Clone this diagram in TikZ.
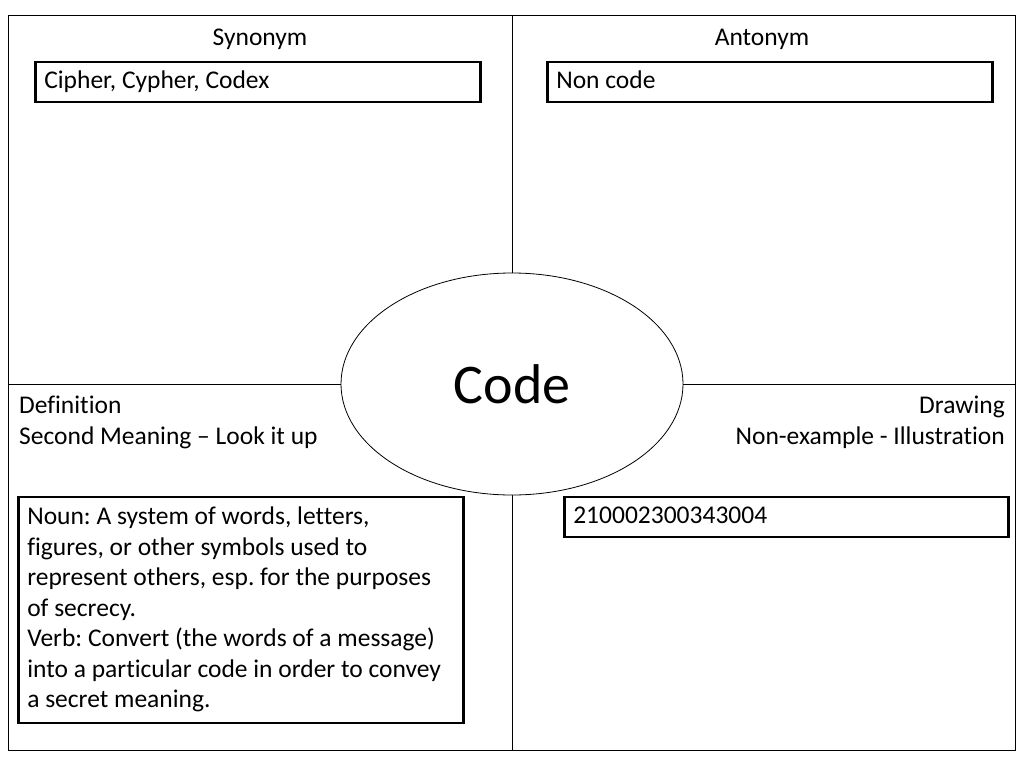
\documentclass[tikz,border=0pt]{standalone}
\usepackage{fontspec}
\setmainfont{Carlito}[Ligatures=NoCommon]
\usetikzlibrary{positioning,shapes.geometric}
\tikzset{
  label/.style={inner sep=0pt,font=\fontsize{25.5}{30.5}\selectfont\frenchspacing},
  answer/.style={draw=black,line width=2.6pt,inner xsep=9pt,inner ysep=0pt,
                 font=\fontsize{25.5}{30.5}\selectfont\frenchspacing,anchor=north west,
                 align=flush left},
  oneline/.style={answer,text height=20pt,text depth=6pt},
  divider/.style={line width=1pt},
}
\begin{document}
\begin{tikzpicture}[x=1pt,y=-1pt]
  \useasboundingbox (0,0) rectangle (1024,768);
  % frame and dividers
  \draw[divider] (8,16) rectangle (1015,750);
  \coordinate (top) at (512,16);
  \coordinate (bot) at (512,750);
  \coordinate (lft) at (8,384);
  \coordinate (rgt) at (1015,384);
  \draw[divider] (top) -- (bot);
  \node[ellipse,draw,line width=0.8pt,fill=white,minimum width=342pt,minimum height=222pt,
        inner sep=0pt,font=\fontsize{56}{56}\selectfont] (code) at (512,384) {Code};
  \draw[divider] (lft) -- (code.west);
  \draw[divider] (code.east) -- (rgt);
  % headings
  \node[label] (syn) at (260,39) {Synonym};
  \node[label] (ant) at (762,39) {Antonym};
  \node[label,anchor=north west,align=left] (def) at (19,396) {Definition\\Second Meaning -- Look it up};
  \node[label,anchor=north east,align=right] (drw) at (1005,396) {Drawing\\Non-example - Illustration};
  % answer boxes
  \node[oneline,text width=427pt,minimum height=40pt] (synbox) at (34,60.5) {Cipher, Cypher, Codex};
  \node[oneline,text width=427pt,minimum height=40pt] (antbox) at (546,60.5) {Non code};
  \node[answer,text width=427pt,minimum height=226pt] (defbox) at (17,495.5)
    {Noun: A system of words, letters,\\figures, or other symbols used to\\represent others, esp. for the purposes\\of secrecy.\\Verb: Convert (the words of a message)\\into a particular code in order to convey\\a secret meaning.};
  \node[oneline,text width=426pt,minimum height=40pt] (numbox) at (563,495.5) {210002300343004};
\end{tikzpicture}
\end{document}
